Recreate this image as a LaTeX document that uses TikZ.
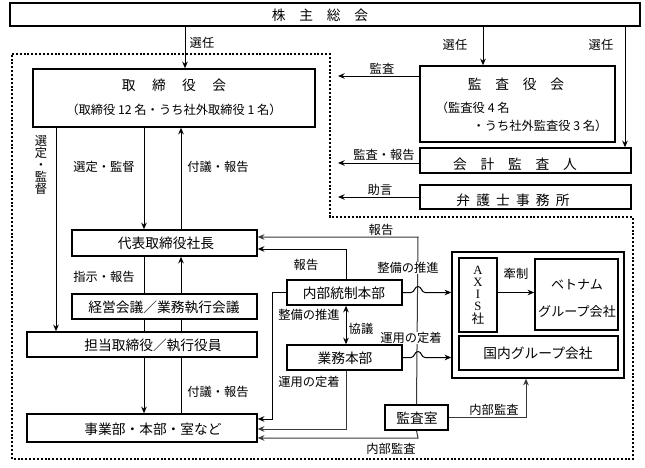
\documentclass[tikz,border=0pt]{standalone}
\usepackage{fontspec}
\setmainfont{Noto Sans CJK JP}
\newfontfamily\latserif{Liberation Serif}
\usetikzlibrary{fit,arrows.meta,calc}
\begin{document}
\begin{tikzpicture}[x=0.75pt,y=-0.75pt,
  box/.style={draw,line width=1.1pt,inner sep=0pt},
  arr/.style={-{Stealth[length=5pt,width=4.2pt]},line width=0.75pt},
  darr/.style={{Stealth[length=5pt,width=4.2pt]}-{Stealth[length=5pt,width=4.2pt]},line width=0.75pt},
  ln/.style={line width=0.75pt},
  gry/.style={draw=black!78},
  lbl/.style={font=\fontsize{9.2}{11}\selectfont,inner sep=0.5pt},
  wlbl/.style={lbl,fill=white},
  btxt/.style={font=\fontsize{10.3}{12}\selectfont,inner sep=0pt},
  dotb/.style={line width=1.6pt,dash pattern=on 1.5pt off 1.4pt},
]
\fill[white] (0,0) rectangle (645,467);
\useasboundingbox (0,0) rectangle (645,467);

% helper coordinates
\coordinate (c56) at (56,0);
\coordinate (c144) at (144,0);
\coordinate (c181) at (181,0);
\coordinate (c185) at (185,0);
\coordinate (c272) at (272,0);
\coordinate (c338) at (338,0);
\coordinate (c346) at (346,0);
\coordinate (c418) at (418,0);
\coordinate (c483) at (483,0);
\coordinate (c526) at (526,0);
\coordinate (c625) at (625,0);
\coordinate (y76) at (0,76);
\coordinate (y163) at (0,163);
\coordinate (y237) at (0,237);
\coordinate (y249) at (0,249);
\coordinate (y419) at (0,419);
\coordinate (y429) at (0,429);
\coordinate (y438) at (0,438);

% dotted boundary
\draw[dotb] (12,54) -- (330,54) -- (330,217) -- (633,217) -- (633,459) -- (12,459) -- cycle;

% boxes
\node[box,fit={(10,3) (640,26)}] (kabu) {};
\node[btxt] (kabut) at (320,15) {株　主　総　会};

\node[box,fit={(33,69) (315,127)}] (tori) {};
\node[btxt] (torit) at (174,85) {取\hspace{1.2em}締\hspace{1.2em}役\hspace{1.2em}会};
\node[lbl] (toris) at (174,110) {（取締役 12 名・うち社外取締役 1 名）};

\node[box,fit={(420,66) (615,142)}] (kansayaku) {};
\node[btxt] (kansayakut) at (516,84) {監　査　役　会};
\node[lbl,anchor=west] (kansayakus1) at (435,108) {（監査役 4 名};
\node[lbl] (kansayakus2) at (540,126) {・うち社外監査役 3 名）};

\node[box,fit={(420,148) (631,173)}] (kaikei) {};
\node[btxt] (kaikeit) at (515,164) {会　計　監　査　人};

\node[box,fit={(420,185) (631,209)}] (bengo) {};
\node[btxt] (bengot) at (513,200) {弁\hspace{0.45em}護\hspace{0.45em}士\hspace{0.45em}事\hspace{0.45em}務\hspace{0.45em}所};

\node[box,btxt,fit={(72,230) (257,256)}] (daihyo) {};
\node[btxt] (daihyot) at (166,243) {代表取締役社長};

\node[box,fit={(72,294) (257,319)}] (keiei) {};
\node[btxt] (keieit) at (164,307) {経営会議／業務執行会議};

\node[box,fit={(27,332) (257,357)}] (tanto) {};
\node[btxt] (tantot) at (153,345) {担当取締役／執行役員};

\node[box,fit={(27,414) (257,442)}] (jigyo) {};
\node[btxt] (jigyot) at (153,429) {事業部・本部・室など};

\node[box,fit={(287,280) (402,305)}] (naibu) {};
\node[btxt] (naibut) at (344,293) {内部統制本部};

\node[box,fit={(287,345) (402,370)}] (gyomu) {};
\node[btxt] (gyomut) at (345,358) {業務本部};

\node[box,fit={(385,405) (448,430)}] (kansashitsu) {};
\node[btxt] (kansashitsut) at (417,418) {監査室};

\node[box,fit={(452,252) (624,378)}] (group) {};
\node[box,fit={(459,258) (497,332)}] (axis) {};
\node[align=center,inner sep=0pt,font=\fontsize{9.5}{9.2}\selectfont] (axist) at (478,295) {{\latserif A}\\{\latserif X}\\{\latserif I}\\{\latserif S}\\社};
\node[box,fit={(535,259) (618,330)}] (viet) {};
\node[font=\fontsize{9.8}{12}\selectfont,inner sep=0pt] (viett1) at (577,285) {ベトナム};
\node[font=\fontsize{9.8}{12}\selectfont,inner sep=0pt] (viett2) at (577,312) {グループ会社};
\node[box,fit={(459,336) (618,370)}] (kokunai) {};
\node[btxt] (kokunait) at (538,353) {国内グループ会社};

% shareholders meeting arrows
\draw[arr] (kabu.south -| c185) -- (tori.north -| c185);
\node[lbl] (l1) at (202,43) {選任};
\draw[arr] (kabu.south -| c483) -- (kansayaku.north -| c483);
\node[lbl] (l2) at (455,45) {選任};
\draw[arr] (kabu.south -| c625) -- (kaikei.north -| c625);
\node[lbl] (l3) at (601,45) {選任};

% audit arrows to the dotted region
\draw[arr] (kansayaku.west |- y76) -- (c338 |- y76);
\node[lbl] (l4) at (382,69) {監査};
\draw[arr] (kaikei.west |- y163) -- (c338 |- y163);
\node[lbl] (l5) at (384,155) {監査・報告};
\draw[arr] (bengo.west) -- (c338 |- bengo.west);
\node[lbl] (l6) at (380,190) {助言};

% board <-> president
\draw[arr] (tori.south -| c144) -- (daihyo.north -| c144);
\draw[arr] (daihyo.north -| c181) -- (tori.south -| c181);
\node[lbl] (l7) at (104,167) {選定・監督};
\node[lbl] (l8) at (218,167) {付議・報告};
\draw[arr] (tori.south -| c56) -- (tanto.north -| c56);
\node[lbl,align=center,font=\fontsize{9.2}{9}\selectfont] (l9) at (41,165) {選\\定\\・\\監\\督};

% president - meeting - directors - divisions
\draw[ln] (daihyo.south -| c144) -- (keiei.north -| c144);
\draw[arr] (keiei.north -| c181) -- (daihyo.south -| c181);
\node[lbl] (l10) at (104,277) {指示・報告};
\draw[ln] (keiei.south -| c144) -- (tanto.north -| c144);
\draw[ln] (keiei.south -| c181) -- (tanto.north -| c181);
\draw[arr] (tanto.south -| c144) -- (jigyo.north -| c144);
\draw[ln] (tanto.south -| c181) -- (jigyo.north -| c181);
\node[lbl] (l11) at (218,392) {付議・報告};

% audit office lines
\draw[arr,gry] (kansashitsu.north) -- (c418 |- y237) -- (daihyo.east |- y237);
\node[lbl] (l12) at (381,230) {報告};
\draw[arr,gry] (kansashitsu.south) -- (c418 |- y438) -- (jigyo.east |- y438);
\node[lbl] (l13) at (391,449) {内部監査};
\draw[arr,gry] (kansashitsu.east) -- (kansashitsu.east -| c526) -- (group.south -| c526);
\node[lbl] (l14) at (494,410) {内部監査};

% internal control HQ
\draw[arr] (naibu.north -| c346) -- (c346 |- y249) -- (daihyo.east |- y249);
\node[lbl] (l15) at (306,265) {報告};
\draw[arr] (naibu.west) -- (naibu.west -| c272) -- (c272 |- y419) -- (jigyo.east |- y419);
\node[lbl] (l16) at (309,315) {整備の推進};
\draw[darr] (naibu.south -| c346) -- (gyomu.north -| c346);
\node[lbl] (l17) at (361,329) {協議};
\draw[arr,gry] (gyomu.south -| c346) -- (c346 |- y429) -- (jigyo.east |- y429);
\node[lbl] (l18) at (309,382) {運用の定着};

% white labels over the vertical line
\node[wlbl] (l19) at (408,268) {整備の推進};
\node[wlbl] (l20) at (411,338) {運用の定着};

% arrows to group companies with hops
\draw[arr] (naibu.east) -- ($(c418 |- naibu.east)+(-7,0)$) to[out=0,in=180] ($(c418 |- naibu.east)+(0,-6)$) to[out=0,in=180] ($(c418 |- naibu.east)+(7,0)$) -- (group.west |- naibu.east);
\draw[arr] (gyomu.east) -- ($(c418 |- gyomu.east)+(-7,0)$) to[out=0,in=180] ($(c418 |- gyomu.east)+(0,-6)$) to[out=0,in=180] ($(c418 |- gyomu.east)+(7,0)$) -- (group.west |- gyomu.east);

% AXIS -> Vietnam
\draw[arr] (axis.east |- naibu.east) -- (viet.west |- naibu.east);
\node[lbl] (l21) at (516,274) {牽制};
\end{tikzpicture}
\end{document}
